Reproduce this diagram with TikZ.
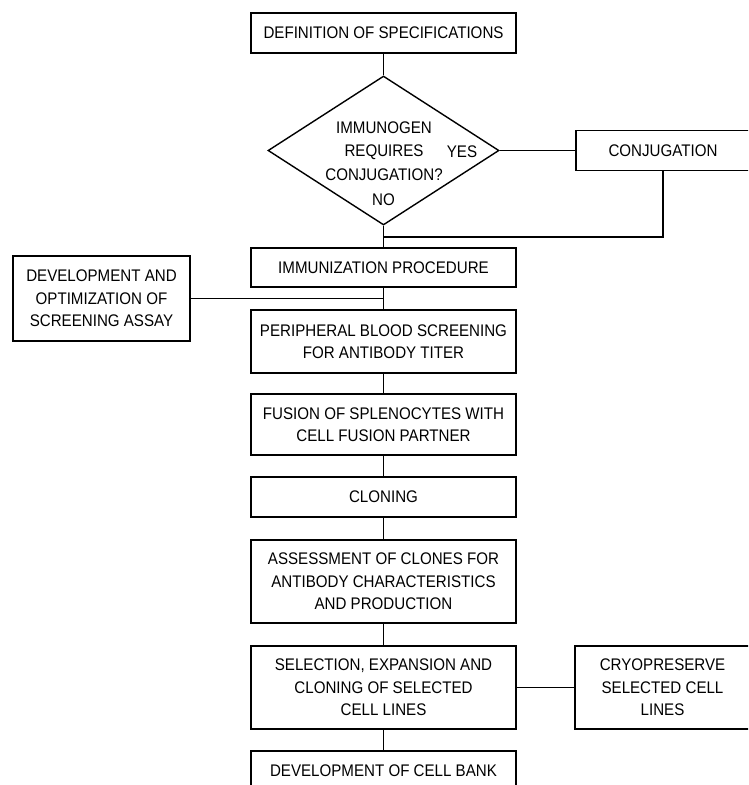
\documentclass[tikz,border=0pt]{standalone}
\usepackage{fontspec}
\setmainfont[FakeStretch=0.9]{Liberation Sans}
\usetikzlibrary{shapes.geometric}
\tikzset{
  box/.style={draw, line width=1.4pt, rectangle, align=center, inner sep=0pt,
    minimum width=265pt, font=\fontsize{16.8}{22.5}\selectfont},
  sidebox/.style={box, minimum width=175pt},
  lbl/.style={inner sep=0pt, align=center, font=\fontsize{16.8}{23.5}\selectfont},
  conn/.style={line width=1.4pt}
}
\begin{document}
\begin{tikzpicture}[x=1pt,y=-1pt]
\useasboundingbox (0,0) rectangle (748,785);
\clip (0,0) rectangle (748,785);
\node[box, minimum height=40pt] (def) at (383.5,33) {DEFINITION OF SPECIFICATIONS};
\node[draw, line width=1.4pt, diamond, minimum width=231pt, minimum height=149pt, inner sep=0pt] (dec) at (383.5,150.5) {};
\node[lbl] (dectext) at (384,151) {IMMUNOGEN\\REQUIRES\\CONJUGATION?};
\node[lbl] (yes) at (462,152) {YES};
\node[lbl] (no) at (383.5,200) {NO};
\node[sidebox, minimum width=174pt, minimum height=40pt] (conj) at (663,150.5) {CONJUGATION};
\node[box, minimum height=39pt] (immun) at (383.5,267.5) {IMMUNIZATION PROCEDURE};
\node[sidebox, minimum width=177pt, minimum height=85pt] (dev) at (101.5,298.5) {DEVELOPMENT AND\\OPTIMIZATION OF\\SCREENING ASSAY};
\node[box, minimum height=63pt] (periph) at (383.5,341.5) {PERIPHERAL BLOOD SCREENING\\FOR ANTIBODY TITER};
\node[box, minimum height=61pt] (fusion) at (383.5,424.5) {FUSION OF SPLENOCYTES WITH\\CELL FUSION PARTNER};
\node[box, minimum height=40pt] (cloning) at (383.5,497) {CLONING};
\node[box, minimum height=83pt] (assess) at (383.5,581.5) {ASSESSMENT OF CLONES FOR\\ANTIBODY CHARACTERISTICS\\AND PRODUCTION};
\node[box, minimum height=83pt] (select) at (383.5,687.5) {SELECTION, EXPANSION AND\\CLONING OF SELECTED\\CELL LINES};
\node[sidebox, minimum height=83pt] (cryo) at (662.5,687.5) {CRYOPRESERVE\\SELECTED CELL\\LINES};
\node[box, minimum height=40pt] (bank) at (383.5,771) {DEVELOPMENT OF CELL BANK};
\coordinate (j1) at (383.5,237);
\draw[conn] (def.south) -- (dec.north);
\draw[conn] (dec.east) -- (conj.west);
\draw[conn] (conj.south) |- (j1);
\draw[conn] (dec.south) -- (immun.north);
\draw[conn] (dev.east) -- (immun.south |- dev.east);
\draw[conn] (immun.south) -- (periph.north);
\draw[conn] (periph.south) -- (fusion.north);
\draw[conn] (fusion.south) -- (cloning.north);
\draw[conn] (cloning.south) -- (assess.north);
\draw[conn] (assess.south) -- (select.north);
\draw[conn] (select.south) -- (bank.north);
\draw[conn] (select.east) -- (cryo.west);
\end{tikzpicture}
\end{document}
